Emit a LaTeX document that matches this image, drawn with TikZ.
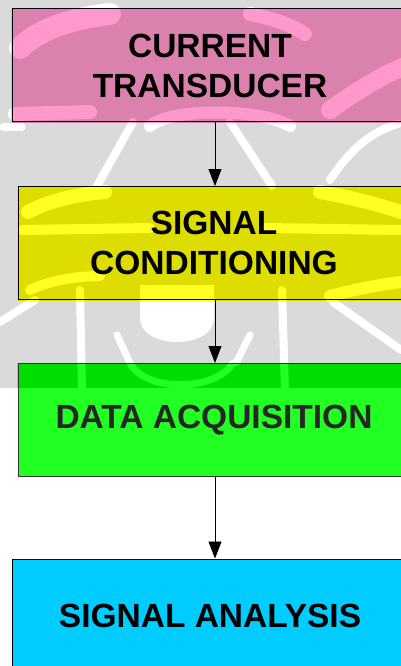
\documentclass[tikz,border=0pt]{standalone}
\usepackage{fontspec}
\setmainfont{Liberation Sans}
\usetikzlibrary{arrows.meta}
\definecolor{pinklight}{HTML}{FF99CC}
\definecolor{pinkdark}{HTML}{DA81AD}
\definecolor{yellowlight}{HTML}{FFFF22}
\definecolor{yellowdark}{HTML}{DDDD00}
\definecolor{greenlight}{HTML}{22FF22}
\definecolor{greendark}{HTML}{00DD00}
\definecolor{boxcyan}{HTML}{00CCFF}
\definecolor{bandgray}{HTML}{DADADA}
\pgfdeclarelayer{background}
\pgfsetlayers{background,main}
\tikzset{
  blockbox/.style={draw=black, line width=1pt, rectangle, align=center,
    minimum width=396pt, minimum height=113pt, inner sep=0pt,
    font=\fontsize{33.5}{40}\selectfont\bfseries},
  flowarrow/.style={draw=black, line width=0.8pt,
    -{Triangle[width=13pt,length=17pt]}},
  gap/.style={line cap=round}
}
% the pale strokes of the emblem, drawn in the colour given
\newcommand\emblemlines[1]{%
  \begin{scope}[draw=#1, fill=#1]
  \clip (0,0) rectangle (401,388);
  % upper box
  \draw[gap, line width=22pt] (20,48) .. controls (40,28) and (75,18) .. (110,14);
  \draw[gap, line width=14pt] (250,14) .. controls (270,18) and (290,24) .. (305,34);
  \draw[gap, line width=18pt] (330,110) .. controls (355,92) and (380,76) .. (410,64);
  \draw[gap, line width=14pt] (15,114) -- (90,112);
  \draw[gap, line width=12pt] (150,126) .. controls (170,108) and (260,108) .. (290,126);
  % first gap
  \draw[gap, line width=8pt] (133,122) -- (97,186);
  \draw[gap, line width=8pt] (230,122) -- (272,186);
  \draw[gap, line width=8pt] (330,180) .. controls (350,150) and (370,132) .. (398,124);
  \draw[gap, line width=7pt] (3,127) -- (22,127);
  % second box
  \draw[gap, line width=10pt] (22,230) -- (150,228);
  \draw[gap, line width=10pt] (265,228) -- (401,230);
  \draw[gap, line width=14pt] (28,212) .. controls (50,200) and (80,194) .. (105,192);
  \draw[gap, line width=14pt] (320,192) .. controls (350,197) and (380,205) .. (401,212);
  \draw[gap, line width=12pt] (330,296) .. controls (360,288) and (385,284) .. (401,282);
  \draw[gap, line width=10pt] (30,290) .. controls (50,280) and (80,276) .. (100,276);
  % second gap
  \fill (140,285) -- (140,318) .. controls (140,350) and (214,350) .. (214,318) -- (214,285) -- cycle;
  \draw[gap, line width=8pt] (80,290) -- (82,392);
  \draw[gap, line width=8pt] (282,290) -- (285,392);
  \draw[gap, line width=8pt] (333,302) -- (401,350);
  \draw[gap, line width=8pt] (0,322) -- (35,300);
  \draw[gap, line width=7pt] (117,335) -- (130,363);
  \draw[gap, line width=7pt] (250,335) -- (236,363);
  % lower box
  \draw[gap, line width=7pt] (130,363) .. controls (145,392) and (215,392) .. (233,363);
  \end{scope}}
% a box filled dark inside the band and light elsewhere, with the emblem strokes
\newcommand\tintbox[3]{%
  \begin{scope}
  \clip (#1.south west) rectangle (#1.north east);
  \fill[#3] (#1.south west) rectangle (#1.north east);
  \fill[#2] (0,0) rectangle (401,388);
  \emblemlines{#3}
  \end{scope}}
\begin{document}
\begin{tikzpicture}[x=1pt,y=-1pt]
\useasboundingbox (0,0) rectangle (401,666);
\clip (0,0) rectangle (401,666);

\node[blockbox] (ct) at (210,65.5) {CURRENT\\TRANSDUCER};
\node[blockbox, minimum width=392pt] (sc) at (214,243) {SIGNAL\\CONDITIONING};
\node[blockbox, minimum width=392pt, draw=black!80, text=black!85] (da) at (214,420) {DATA ACQUISITION};
\node[blockbox, fill=boxcyan] (sa) at (210,615.5) {SIGNAL ANALYSIS};

\coordinate (ax) at (215,0);
\draw[flowarrow] (ct.south -| ax) -- (sc.north -| ax);
\draw[flowarrow] (sc.south -| ax) -- (da.north -| ax);
\draw[flowarrow] (da.south -| ax) -- (sa.north -| ax);

\begin{pgfonlayer}{background}
  \fill[white] (0,0) rectangle (401,666);
  \fill[bandgray] (0,0) rectangle (401,388);
  \emblemlines{white}
  \tintbox{ct}{pinkdark}{pinklight}
  \tintbox{sc}{yellowdark}{yellowlight}
  \tintbox{da}{greendark}{greenlight}
\end{pgfonlayer}
\end{tikzpicture}
\end{document}
